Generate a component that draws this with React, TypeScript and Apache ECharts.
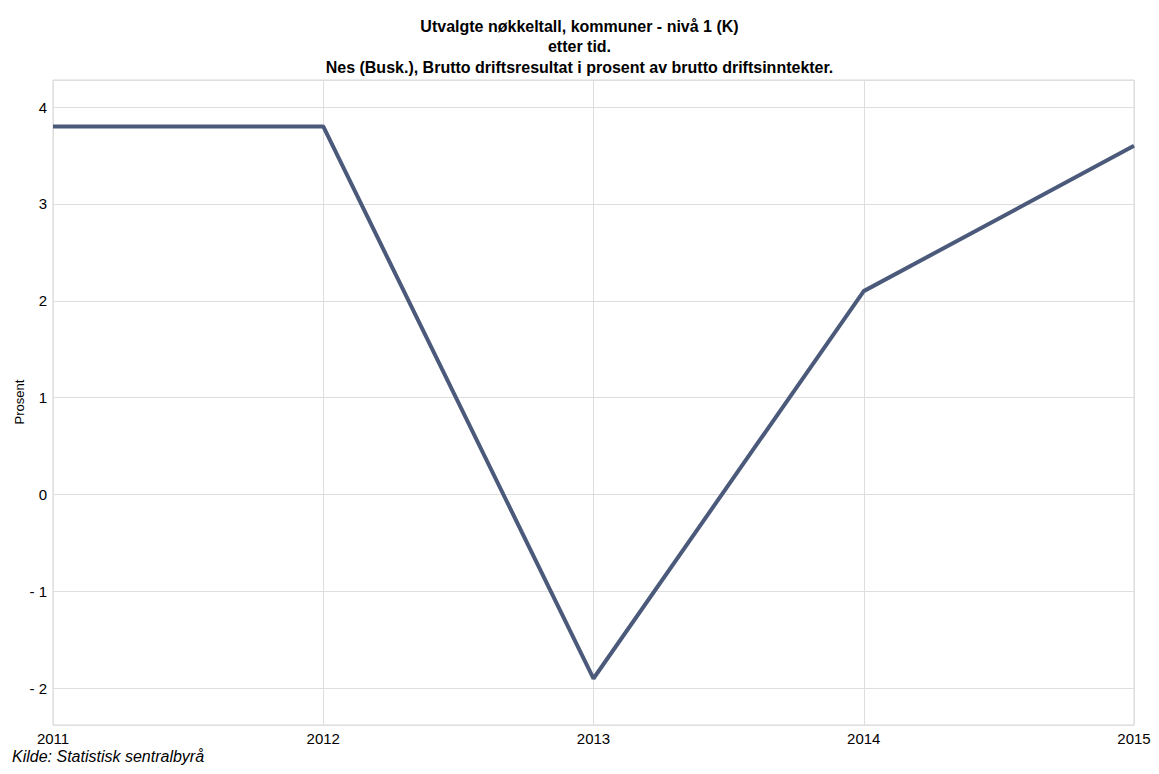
import React, { useEffect, useRef } from "react";
import * as echarts from "echarts";

const years = ["2011", "2012", "2013", "2014", "2015"];
const values = [3.8, 3.8, -1.9, 2.1, 3.6];
const titleLines = [
  "Utvalgte nøkkeltall, kommuner - nivå 1 (K)",
  "etter tid.",
  "Nes (Busk.), Brutto driftsresultat i prosent av brutto driftsinntekter.",
];
const yName = "Prosent";
const source = "Kilde: Statistisk sentralbyrå";

export default function App() {
  const ref = useRef<HTMLDivElement>(null);
  useEffect(() => {
    if (!ref.current) return;
    const chart = echarts.init(ref.current, null, { renderer: "svg" });
    const font = "Arial, 'Liberation Sans', sans-serif";
    chart.setOption({
      animation: false,
      backgroundColor: "#ffffff",
      title: {
        text: titleLines.join("\n"),
        left: "center",
        top: 11,
        textStyle: {
          fontFamily: font,
          fontSize: 16,
          fontWeight: "bold",
          color: "#000",
          lineHeight: 20.5,
        },
      },
      graphic: [
        {
          type: "text",
          left: 12,
          top: 748,
          style: {
            text: source,
            fontFamily: font,
            fontSize: 16,
            fontStyle: "italic",
            fill: "#000",
          },
        },
        {
          type: "text",
          x: 19,
          y: 402,
          rotation: Math.PI / 2,
          style: {
            text: yName,
            fontFamily: font,
            fontSize: 13,
            fill: "#000",
            align: "center",
            verticalAlign: "middle",
          },
        },
      ],
      grid: {
        left: 53,
        right: 25,
        top: 80,
        bottom: 49,
        show: true,
        borderColor: "#d8d8d8",
        borderWidth: 1,
        containLabel: false,
      },
      xAxis: {
        type: "category",
        data: years,
        boundaryGap: false,
        axisLine: { show: false },
        axisTick: { show: false },
        splitLine: { show: true, lineStyle: { color: "#dedede", width: 1 } },
        axisLabel: {
          fontFamily: font,
          fontSize: 15,
          color: "#000",
          margin: 6,
          interval: 0,
        },
      },
      yAxis: {
        type: "value",
        min: -2.38,
        max: 4.28,
        splitNumber: 6,
        axisLine: { show: false },
        axisTick: { show: false },
        splitLine: { show: true, lineStyle: { color: "#dedede", width: 1 } },
        axisLabel: {
          fontFamily: font,
          fontSize: 15,
          color: "#000",
          margin: 6,
          showMinLabel: false,
          showMaxLabel: false,
          formatter: (v: number) => {
            if (Math.abs(v - Math.round(v)) > 1e-6) return "";
            const r = Math.round(v);
            return r < 0 ? "- " + Math.abs(r) : String(r);
          },
        },
      },
      series: [
        {
          type: "line",
          data: values,
          symbol: "none",
          lineStyle: { color: "#4b5a7a", width: 4 },
        },
      ],
    });
    return () => chart.dispose();
  }, []);
  return (
    <div
      ref={ref}
      style={{ position: "absolute", left: 0, top: 0, width: 1159, height: 774 }}
    />
  );
}
